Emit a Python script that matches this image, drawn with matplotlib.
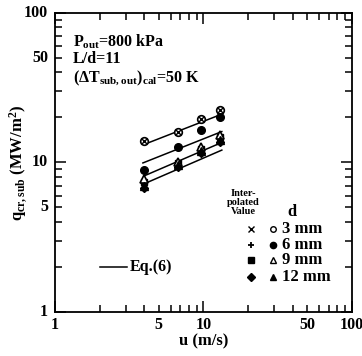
import matplotlib
matplotlib.use("Agg")
import matplotlib.pyplot as plt
from matplotlib.ticker import FixedLocator, NullFormatter

plt.rcParams['font.family'] = ['Liberation Serif', 'DejaVu Serif']
plt.rcParams['font.weight'] = 'bold'
plt.rcParams['mathtext.fontset'] = 'custom'
plt.rcParams['mathtext.rm'] = 'Liberation Serif:bold'
plt.rcParams['mathtext.it'] = 'Liberation Serif:bold'
plt.rcParams['mathtext.bf'] = 'Liberation Serif:bold'

# Flow velocity u (m/s) for each measurement column
u_meas = [4.0, 6.7, 9.6, 12.9]

# Measured critical heat flux q_cr,sub (MW/m^2) by tube diameter
q_3mm = [13.9, 16.0, 19.4, 22.6]
q_6mm = [8.9, 12.7, 16.6, 20.2]
q_9mm = [7.8, 10.1, 12.6, 15.3]
q_12mm = [7.0, 9.6, 11.9, 14.2]

# Interpolated values at the same velocities
qi_3mm = [13.9, 16.0, 19.4, 22.6]
qi_6mm = [8.9, 12.7, 16.6, 20.2]
qi_9mm = [7.4, 9.9, 12.3, 14.9]
qi_12mm = [6.7, 9.3, 11.6, 13.8]

# Eq.(6) correlation lines: end points (u, q) per diameter
eq_u = [[4.14, 12.9], [3.91, 13.3], [3.97, 13.5], [4.10, 13.3]]
eq_q = [[13.4, 20.8], [9.93, 16.1], [8.12, 13.7], [7.29, 12.1]]

diam_labels = ['3 mm', '6 mm', '9 mm', '12 mm']
x_tick_vals = [1, 5, 10, 50, 100]
y_tick_vals = [1, 5, 10, 50, 100]
tick_text = ['1', '5', '10', '50', '100']

fig = plt.figure(figsize=(3.62, 3.56), dpi=100)
ax = fig.add_axes([0.152, 0.1236, 0.820, 0.840])
ax.set_xscale('log')
ax.set_yscale('log')
ax.set_xlim(1, 100)
ax.set_ylim(1, 100)

for uu, qq in zip(eq_u, eq_q):
    ax.plot(uu, qq, color='black', lw=1.1)

ms = 5.5
ax.plot(u_meas, qi_9mm, 's', color='black', ms=4.5, ls='none')
ax.plot(u_meas, qi_12mm, 'D', color='black', ms=4.5, ls='none')
ax.plot(u_meas, q_3mm, 'o', mfc='white', mec='black', mew=1.2, ms=ms, ls='none')
ax.plot(u_meas, qi_3mm, 'x', color='black', ms=4, mew=1.0, ls='none')
ax.plot(u_meas, q_6mm, 'o', color='black', ms=ms, ls='none')
ax.plot(u_meas, qi_6mm, '+', color='black', ms=4, mew=1.0, ls='none')
ax.plot(u_meas, q_9mm, '^', mfc='white', mec='black', mew=1.2, ms=ms, ls='none')
ax.plot(u_meas, q_12mm, '^', color='black', ms=ms, ls='none')

# axes styling
for s in ax.spines.values():
    s.set_linewidth(1.3)
minor = [m * 10 ** e for e in (0, 1) for m in range(2, 10)]
for axis in (ax.xaxis, ax.yaxis):
    axis.set_major_locator(FixedLocator([1, 10, 100]))
    axis.set_minor_locator(FixedLocator(minor))
    axis.set_major_formatter(NullFormatter())
    axis.set_minor_formatter(NullFormatter())
ax.tick_params(which='both', direction='in', top=True, right=True, width=1.1)
ax.tick_params(which='major', length=8)
ax.tick_params(which='minor', length=5)

for v, t in zip(x_tick_vals, tick_text):
    ax.text(v, 0.93, t, ha='center', va='top', fontsize=11.5, fontweight='bold')
for v, t in zip(y_tick_vals, tick_text):
    ax.text(0.9, v, t, ha='right', va='center', fontsize=11.5, fontweight='bold')

ax.set_xlabel('u (m/s)', fontsize=12, fontweight='bold', labelpad=12)
ax.set_ylabel(r'$\mathregular{q_{cr,sub}}$ (MW/m$^\mathregular{2}$)', fontsize=12,
              fontweight='bold', labelpad=15)

# condition annotations
ax.text(0.06, 0.905, r'$\mathregular{P_{out}}$=800 kPa', transform=ax.transAxes,
        fontsize=11.5, fontweight='bold', va='center')
ax.text(0.06, 0.845, 'L/d=11', transform=ax.transAxes,
        fontsize=11.5, fontweight='bold', va='center')
ax.text(0.06, 0.785, r'($\mathregular{\Delta T_{sub,out})_{cal}}$=50 K',
        transform=ax.transAxes, fontsize=11.5, fontweight='bold', va='center')

# Eq.(6) legend entry
ax.plot([0.152, 0.243], [0.150, 0.150], transform=ax.transAxes, color='black', lw=1.1)
ax.text(0.25, 0.150, 'Eq.(6)', transform=ax.transAxes, fontsize=11.5,
        fontweight='bold', va='center')

# symbol legend
ax.text(0.635, 0.366, 'Inter-\npolated\nValue', transform=ax.transAxes,
        fontsize=7.5, fontweight='bold', ha='center', va='center', linespacing=1.0)
ax.text(0.798, 0.333, 'd', transform=ax.transAxes, fontsize=12,
        fontweight='bold', ha='center', va='center')
rows_y = [0.278, 0.224, 0.174, 0.117]
interp_style = [dict(marker='x', color='black', ms=4, mew=1.0),
                dict(marker='+', color='black', ms=4.5, mew=1.3),
                dict(marker='s', color='black', ms=4),
                dict(marker='D', color='black', ms=4.5)]
meas_style = [dict(marker='o', mfc='white', mec='black', mew=1.0, ms=4),
              dict(marker='o', color='black', ms=4.5),
              dict(marker='^', mfc='white', mec='black', mew=1.0, ms=4.5),
              dict(marker='^', color='black', ms=4.5)]
for y, lab, si, sm in zip(rows_y, diam_labels, interp_style, meas_style):
    ax.plot([0.66], [y], transform=ax.transAxes, ls='none', **si)
    ax.plot([0.734], [y], transform=ax.transAxes, ls='none', **sm)
    ax.text(0.763, y, lab, transform=ax.transAxes, fontsize=12,
            fontweight='bold', va='center')

fig.savefig('out.png', dpi=100)
